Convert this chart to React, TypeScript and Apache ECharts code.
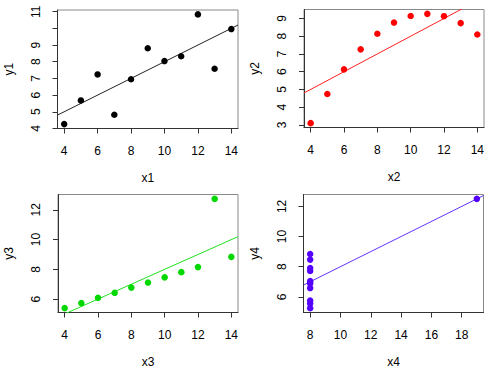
import React, { useEffect, useRef } from "react";
import * as echarts from "echarts";

const x123 = [10, 8, 13, 9, 11, 14, 6, 4, 12, 7, 5];
const y1 = [8.04, 6.95, 7.58, 8.81, 8.33, 9.96, 7.24, 4.26, 10.84, 4.82, 5.68];
const y2 = [9.14, 8.14, 8.74, 8.77, 9.26, 8.1, 6.13, 3.1, 9.13, 7.26, 4.74];
const y3 = [7.46, 6.77, 12.74, 7.11, 7.81, 8.84, 6.08, 5.39, 8.15, 6.42, 5.73];
const x4 = [8, 8, 8, 8, 8, 8, 8, 19, 8, 8, 8];
const y4 = [6.58, 5.76, 7.71, 8.84, 8.47, 7.04, 5.25, 12.5, 5.56, 7.91, 6.89];

const xTicks123 = [4, 6, 8, 10, 12, 14];
const xTicks4 = [8, 10, 12, 14, 16, 18];
const yTicks1 = [4, 5, 6, 7, 8, 9, 10, 11];
const yLabels1 = [4, 5, 6, 7, 8, 9, 11];
const yTicks2 = [3, 4, 5, 6, 7, 8, 9];
const yTicks34 = [6, 8, 10, 12];

const xNames = ["x1", "x2", "x3", "x4"];
const yNames = ["y1", "y2", "y3", "y4"];
const colors = ["#000000", "#ff0000", "#00d800", "#5500ff"];
const lineColors = ["#222222", "#ff2020", "#20e020", "#6633ff"];

function rRange(v: number[]) {
  const mn = Math.min(...v);
  const mx = Math.max(...v);
  const p = (mx - mn) * 0.04;
  return [mn - p, mx + p];
}

function fit(x: number[], y: number[]) {
  const n = x.length;
  const mx = x.reduce((a, b) => a + b, 0) / n;
  const my = y.reduce((a, b) => a + b, 0) / n;
  let sxy = 0;
  let sxx = 0;
  for (let i = 0; i < n; i++) {
    sxy += (x[i] - mx) * (y[i] - my);
    sxx += (x[i] - mx) * (x[i] - mx);
  }
  const b = sxy / sxx;
  return [my - b * mx, b];
}

export default function App() {
  const ref = useRef<HTMLDivElement>(null);
  useEffect(() => {
    if (!ref.current) return;
    const chart = echarts.init(ref.current, null, { renderer: "svg" });
    const xs = [x123, x123, x123, x4];
    const ys = [y1, y2, y3, y4];
    const xt = [xTicks123, xTicks123, xTicks123, xTicks4];
    const yt = [yTicks1, yTicks2, yTicks34, yTicks34];
    const yl = [yLabels1, yTicks2, yTicks34, yTicks34];
    const grids = [
      { left: 57.5, top: 10, width: 180.5, height: 118.5 },
      { left: 304, top: 9.5, width: 180, height: 118 },
      { left: 58, top: 194.5, width: 180, height: 118 },
      { left: 303.5, top: 194.5, width: 180, height: 118 },
    ].map((g) => ({ ...g, show: true, borderColor: "#8a8a8a", borderWidth: 1, containLabel: false }));
    const font = { fontFamily: "Liberation Sans, Arial, sans-serif", fontSize: 12, color: "#000" };
    const xAxis: any[] = [];
    const yAxis: any[] = [];
    const series: any[] = [];
    for (let i = 0; i < 4; i++) {
      const [xmin, xmax] = rRange(xs[i]);
      const [ymin, ymax] = rRange(ys[i]);
      xAxis.push({
        type: "value",
        gridIndex: i,
        min: xmin,
        max: xmax,
        name: xNames[i],
        nameLocation: "middle",
        nameGap: 43,
        nameTextStyle: { ...font, verticalAlign: "top" },
        splitLine: { show: false },
        axisLine: { show: true, lineStyle: { color: "#333", width: 1 } },
        axisTick: { show: true, length: 5, lineStyle: { color: "#333" }, customValues: xt[i] },
        axisLabel: { ...font, margin: 16, customValues: xt[i], showMinLabel: true, showMaxLabel: true },
      });
      yAxis.push({
        type: "value",
        gridIndex: i,
        min: ymin,
        max: ymax,
        name: yNames[i],
        nameLocation: "middle",
        nameGap: 43,
        nameRotate: 90,
        nameTextStyle: { ...font, verticalAlign: "bottom" },
        splitLine: { show: false },
        axisLine: { show: true, lineStyle: { color: "#333", width: 1 } },
        axisTick: { show: true, length: 5, lineStyle: { color: "#333" }, customValues: yt[i] },
        axisLabel: {
          ...font,
          rotate: 90,
          margin: 16,
          align: "center",
          verticalAlign: "bottom",
          customValues: yl[i],
        },
      });
      const [a, b] = fit(xs[i], ys[i]);
      series.push({
        type: "line",
        xAxisIndex: i,
        yAxisIndex: i,
        data: [
          [xmin, a + b * xmin],
          [xmax, a + b * xmax],
        ],
        symbol: "none",
        clip: true,
        lineStyle: { color: lineColors[i], width: 1 },
        z: 2,
      });
      series.push({
        type: "scatter",
        xAxisIndex: i,
        yAxisIndex: i,
        data: xs[i].map((x, k) => [x, ys[i][k]]),
        symbol: "circle",
        symbolSize: 6.5,
        itemStyle: { color: colors[i], opacity: 1 },
        z: 3,
      });
    }
    chart.setOption({
      animation: false,
      backgroundColor: "#ffffff",
      grid: grids,
      xAxis,
      yAxis,
      series,
    });
    return () => chart.dispose();
  }, []);
  return (
    <div
      ref={ref}
      style={{ position: "fixed", left: 0, top: 0, width: 494, height: 370, background: "#fff" }}
    />
  );
}
